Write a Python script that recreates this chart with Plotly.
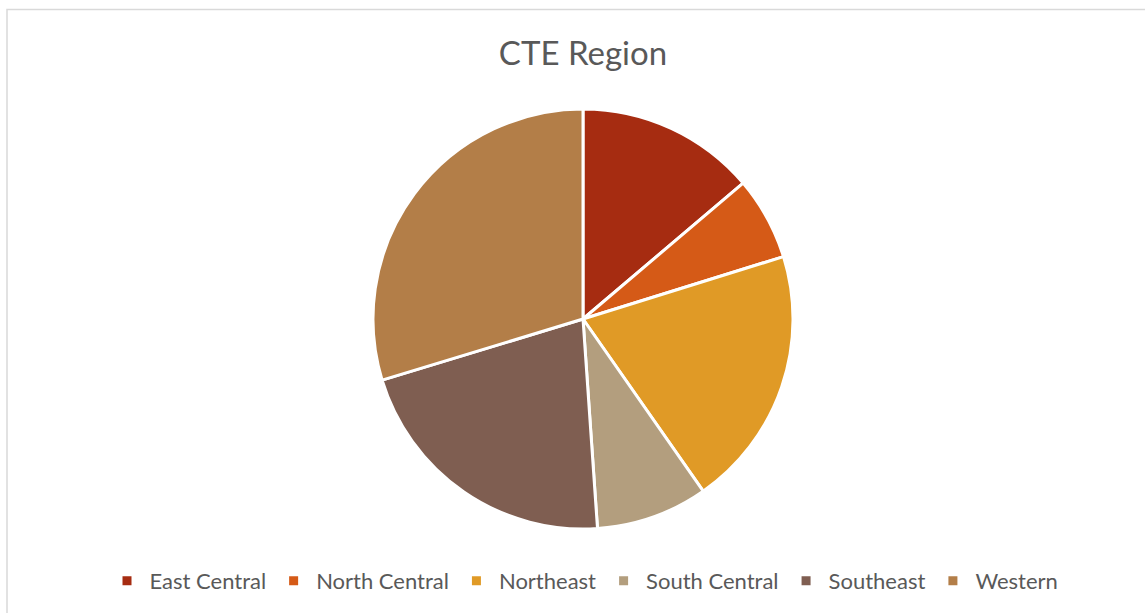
import plotly.graph_objects as go

regions = ["East Central", "North Central", "Northeast", "South Central", "Southeast", "Western"]
values = [13.8, 6.4, 20.1, 8.6, 21.4, 29.7]
colors = ["#A62C11", "#D55A17", "#E09A26", "#B39E7E", "#7F5E51", "#B37E48"]

W, H = 1145, 613
cx, cy, r = 583, 319, 210

fig = go.Figure(go.Pie(
    labels=regions, values=values, sort=False, direction="clockwise", rotation=0,
    marker=dict(colors=colors, line=dict(color="white", width=3)),
    textinfo="none", hoverinfo="label+value",
    domain=dict(x=[(cx - r) / W, (cx + r) / W], y=[1 - (cy + r) / H, 1 - (cy - r) / H]),
))

fig.update_layout(
    width=W, height=H,
    margin=dict(l=0, r=0, t=0, b=0),
    paper_bgcolor="white",
    title=dict(text="CTE Region", x=583 / W, xanchor="center", y=1 - 53 / H, yanchor="middle",
               font=dict(family="Lato, Open Sans, sans-serif", size=33, color="#595959")),
    legend=dict(orientation="h", x=584 / W, xanchor="center", y=1 - 581 / H, yanchor="middle",
                font=dict(family="Lato, Open Sans, sans-serif", size=22, color="#595959"),
                itemwidth=35, traceorder="normal"),
    shapes=[dict(type="rect", xref="paper", yref="paper", x0=7 / W, x1=1.05, y0=-0.05, y1=1 - 9.5 / H,
                 line=dict(color="#D9D9D9", width=1.5), fillcolor="rgba(0,0,0,0)", layer="below")],
)

fig.write_html("out.html", config={"displayModeBar": False},
               post_script="document.body.style.margin='0';")
